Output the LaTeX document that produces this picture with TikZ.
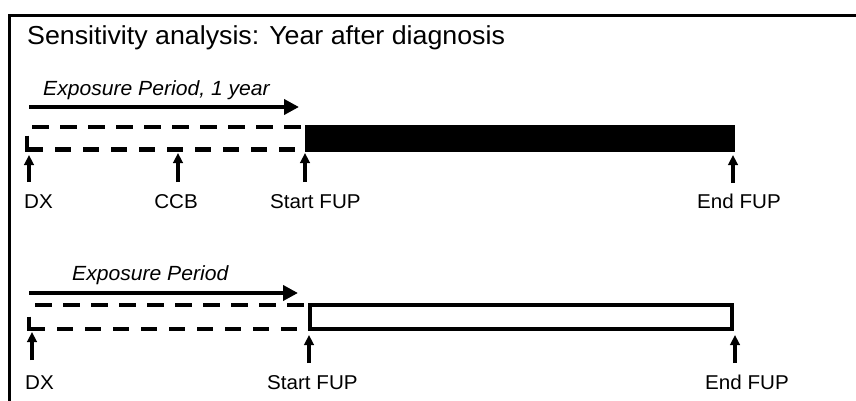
\documentclass[tikz,border=0pt]{standalone}
\usepackage{fontspec}
\setmainfont[FakeStretch=1.03]{Liberation Sans}
\usetikzlibrary{arrows.meta}
\tikzset{
  x=1pt, y=-1pt,
  frame/.style={line width=2.5pt},
  titletext/.style={inner sep=0pt, anchor=base west, font=\fontsize{26}{30}\selectfont},
  lbl/.style={inner sep=0pt, anchor=base west, font=\fontsize{20}{23}\selectfont},
  exptext/.style={inner sep=0pt, anchor=base west, font=\fontsize{20.5}{23}\selectfont\itshape},
  exparrow/.style={line width=4pt, -{Triangle[length=15pt,width=15pt]}},
  uparrow/.style={line width=3.5pt, -{Triangle[length=10pt,width=9.5pt]}},
  dashline/.style={line width=4.5pt, dash pattern=on 17pt off 11pt},
  dashline2/.style={line width=4.5pt, dash pattern=on 16pt off 12pt},
  solidL/.style={line width=4.5pt},
  fupbar/.style={fill=black},
  fupbox/.style={draw=black, line width=4.3pt, fill=white},
}
\begin{document}
\begin{tikzpicture}
\useasboundingbox (0,0) rectangle (856,401);
\fill[white] (0,0) rectangle (856,401);
% frame
\draw[frame] (857,15.5) -- (9.5,15.5) -- (9.5,402);
\node[titletext] (title) at (27,45) {Sensitivity analysis: Year after diagnosis};

% ---------- Row 1 ----------
\node[exptext] (exp1) at (43,96) {Exposure Period, 1 year};
\coordinate (a1s) at (29,107);
\coordinate (a1e) at (299,107);
\draw[exparrow] (a1s) -- (a1e);
% dashed exposure box
\draw[dashline] (32,127) -- (304,127);
\draw[solidL] (27,135.5) -- (27,149.5) -- (43,149.5);
\draw[dashline2] (55,149.5) -- (298,149.5);
% follow-up bar
\fill[fupbar] (305,125) rectangle (735,152);
% labels
\node[lbl] (dx1) at (24,208) {DX};
\node[lbl, anchor=base] (ccb1) at (176,208) {CCB};
\node[lbl] (sf1) at (270,208) {Start FUP};
\node[lbl] (ef1) at (697,208) {End FUP};
% up arrows
\coordinate (dx1b) at (29,182);   \coordinate (dx1t) at (29,155);
\coordinate (ccb1b) at (178,182); \coordinate (ccb1t) at (178,153);
\coordinate (sf1b) at (305,182);  \coordinate (sf1t) at (305,153);
\coordinate (ef1b) at (733,183);  \coordinate (ef1t) at (733,155);
\draw[uparrow] (dx1b) -- (dx1t);
\draw[uparrow] (ccb1b) -- (ccb1t);
\draw[uparrow] (sf1b) -- (sf1t);
\draw[uparrow] (ef1b) -- (ef1t);

% ---------- Row 2 ----------
\node[exptext] (exp2) at (72,280) {Exposure Period};
\coordinate (a2s) at (29,293);
\coordinate (a2e) at (298,293);
\draw[exparrow] (a2s) -- (a2e);
\draw[dashline] (35,305) -- (304,305);
\draw[solidL] (29,316.5) -- (29,329) -- (45,329);
\draw[dashline2] (57,329) -- (298,329);
\draw[fupbox] (310,305) rectangle (732,329);
\node[lbl] (dx2) at (25,389) {DX};
\node[lbl] (sf2) at (267,389) {Start FUP};
\node[lbl] (ef2) at (705,389) {End FUP};
\coordinate (dx2b) at (32,360);  \coordinate (dx2t) at (32,332);
\coordinate (sf2b) at (309,363); \coordinate (sf2t) at (309,335);
\coordinate (ef2b) at (735,363); \coordinate (ef2t) at (735,335);
\draw[uparrow] (dx2b) -- (dx2t);
\draw[uparrow] (sf2b) -- (sf2t);
\draw[uparrow] (ef2b) -- (ef2t);
\end{tikzpicture}
\end{document}
